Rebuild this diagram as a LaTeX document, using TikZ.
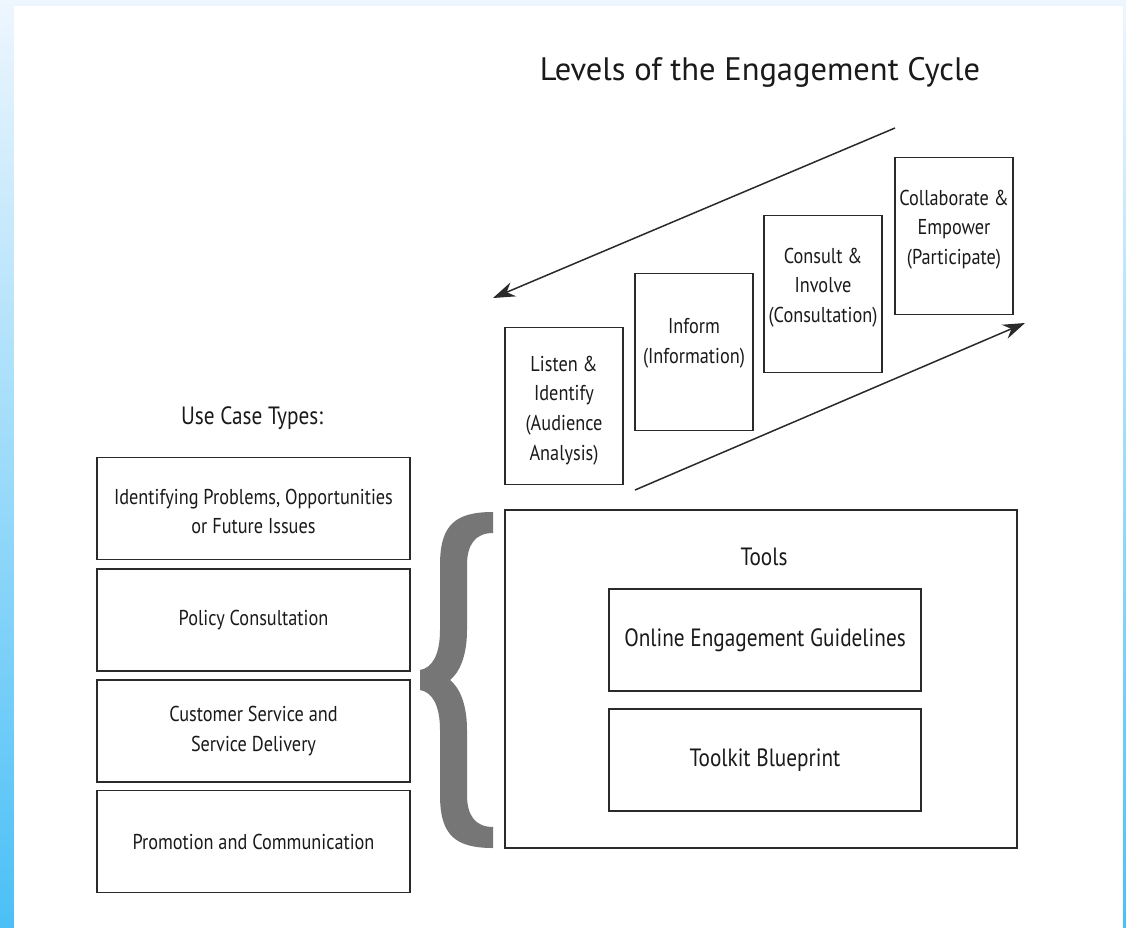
\documentclass[tikz,border=0pt]{standalone}
\usepackage{fontspec}
\setmainfont{PT Sans}[FakeStretch=0.85]
\newfontfamily\titlefont{PT Sans}
\usetikzlibrary{arrows.meta}

\definecolor{edge}{HTML}{2A2A2A}
\definecolor{ink}{HTML}{1A1A1A}
\definecolor{bracegray}{HTML}{767676}
\definecolor{skytop}{HTML}{EEF6FE}
\definecolor{skybottom}{HTML}{4BC0F6}

\begin{document}
\begin{tikzpicture}[x=1pt, y=-1pt, >={Stealth[length=22pt, width=15pt]},
  every node/.style={text=ink, font=\fontsize{21.5}{29.7}\selectfont},
  box/.style={draw=edge, line width=1.8pt, inner sep=0pt, align=center},
  stage/.style={box, minimum width=118pt, minimum height=157pt},
  stagetext/.style={anchor=north, align=center, inner sep=0pt},
  usecase/.style={box, minimum width=313pt, minimum height=102pt},
  heading/.style={font=\fontsize{25}{30}\selectfont},
  tool/.style={box, heading, minimum width=312pt, minimum height=102pt},
  cycle/.style={->, line width=1.5pt, draw=edge}]
  \useasboundingbox (0,0) rectangle (1126,928);

  % page with the blue edge
  \shade[top color=skytop, bottom color=skybottom] (0,0) rectangle (1126,928);
  \fill[white] (14,6) rectangle (1123,928);

  \node[font=\titlefont\fontsize{32.5}{38}\selectfont] (title) at (760,72)
    {Levels of the Engagement Cycle};

  % the four levels, stepping up to the right
  \node[stage] (listen) at (564,406) {};
  \node[stage] (inform) at (694,352) {};
  \node[stage] (consult) at (823,294) {};
  \node[stage] (collab) at (954,236) {};
  \node[stagetext] at ([yshift=-29pt]listen.north)
    {Listen \&\\Identify\\(Audience\\Analysis)};
  \node[stagetext] at ([yshift=-46pt]inform.north) {Inform\\(Information)};
  \node[stagetext] at ([yshift=-33pt]consult.north)
    {Consult \&\\Involve\\(Consultation)};
  \node[stagetext] at ([yshift=-33pt]collab.north)
    {Collaborate \&\\Empower\\(Participate)};

  \coordinate (backfrom) at (895,128);
  \coordinate (backto) at (493,298);
  \coordinate (upfrom) at (635,490);
  \coordinate (upto) at (1025,323);
  \draw[cycle] (backfrom) -- (backto);
  \draw[cycle] (upfrom) -- (upto);

  % use case types
  \node[heading] (types) at (252,418) {Use Case Types:};
  \node[usecase] (problems) at (253.5,508.5) {};
  \node[align=center, inner sep=0pt] at ([yshift=-3pt]problems.center)
    {Identifying Problems, Opportunities\\or Future Issues};
  \node[usecase] (policy) at (253.5,620) {Policy Consultation};
  \node[usecase] (service) at (253.5,731)
    {Customer Service and\\Service Delivery};
  \node[usecase] (promo) at (253.5,841.5) {Promotion and Communication};

  % brace
  \fill[bracegray] (493,512) .. controls (455,512) and (440,525) .. (440,565)
    -- (440,630) .. controls (440,655) and (432,668) .. (420,670)
    -- (420,690) .. controls (432,692) and (440,705) .. (440,730)
    -- (440,795) .. controls (440,835) and (455,848) .. (493,848)
    -- (493,827) .. controls (475,827) and (467,815) .. (467,795)
    -- (467,730) .. controls (467,705) and (460,688) .. (450,680)
    .. controls (460,672) and (467,655) .. (467,630)
    -- (467,565) .. controls (467,545) and (475,533) .. (493,533) -- cycle;

  % tools
  \node[box, minimum width=512pt, minimum height=338pt] (tools) at (761,679) {};
  \node[heading] (toolslabel) at (764,557) {Tools};
  \node[tool] (guide) at (765,640) {Online Engagement Guidelines};
  \node[tool] (kit) at (765,760) {Toolkit Blueprint};
\end{tikzpicture}
\end{document}
